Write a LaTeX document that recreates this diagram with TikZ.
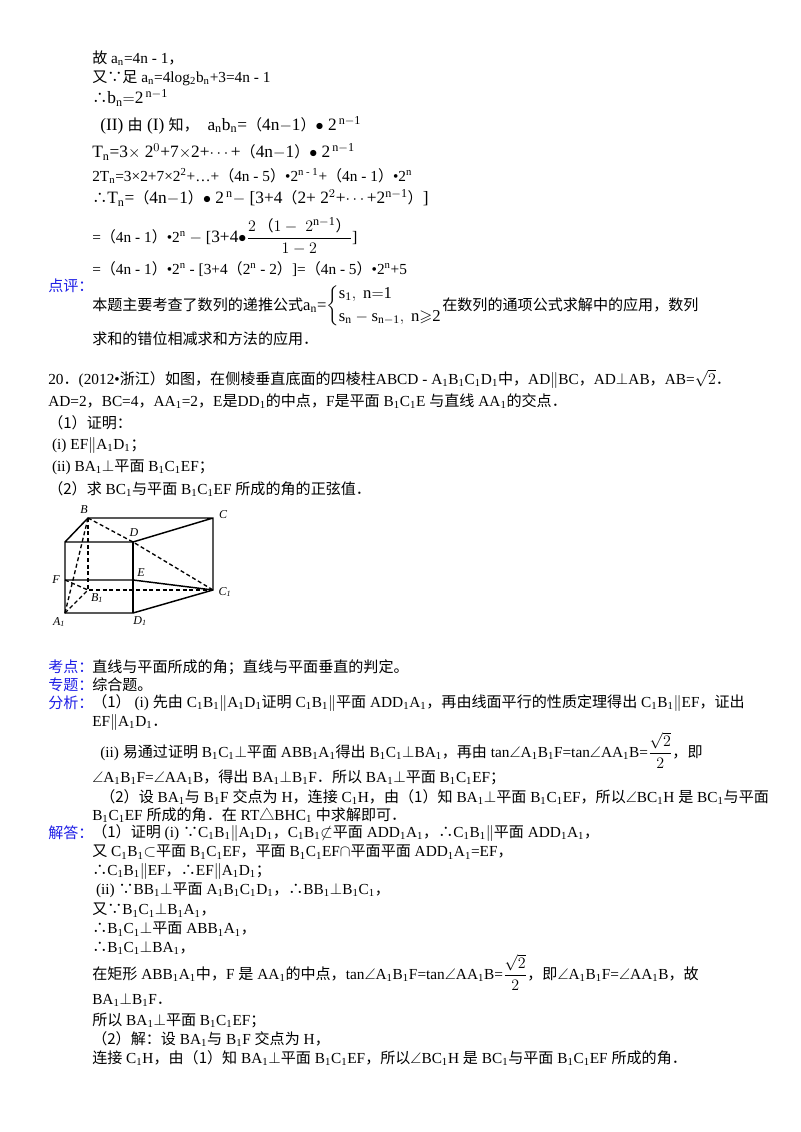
\documentclass[tikz,border=0pt]{standalone}
\usepackage{fontspec}
\usepackage{amsmath,amssymb}
\setmainfont{Liberation Serif}
\newfontfamily\zhf{Noto Sans CJK SC}
\newcommand\zh[1]{{\zhf\fontsize{11.3}{12}\selectfont #1}}
\newcommand\s[1]{\textsubscript{#1}}
\newcommand\p{$\|$}
\newcommand\pe{$\perp$}
\newcommand\an{$\angle$}
\newcommand\lp{\zh{（}}
\newcommand\rp{\zh{）}}
\definecolor{lab}{RGB}{30,30,230}
\begin{document}
\begin{tikzpicture}[x=0.75pt,y=-0.75pt,
  ln/.style={anchor=west,inner sep=0pt,font=\fontsize{11.5}{13}\selectfont},
  fm/.style={ln,font=\fontsize{13}{15}\selectfont},
  lb/.style={ln,text=lab},
  ed/.style={line width=1.1pt},
  hid/.style={line width=1pt,dashed,dash pattern=on 3pt off 2pt},
  pl/.style={font=\itshape\fontsize{9}{10}\selectfont,inner sep=0pt}]
\useasboundingbox (0,0) rectangle (800,1132);
\fill[white] (0,0) rectangle (800,1132);
\node[ln] (l1) at (92,58) {\zh{故} a\s{n}=4n - 1\zh{，}};
\node[ln] (l2) at (92,78) {\zh{又∵足} a\s{n}=4log\s{2}b\s{n}+3=4n - 1};
\node[fm] (l3) at (92,98) {\zh{∴}$\mathrm{b_n{=}2^{\,n-1}}$};
\node[fm] (l4) at (100,125) {(II) \zh{由} (I) \zh{知，}\ \ $\mathrm{a_nb_n}$=\lp 4n$-$1\rp$\bullet$ $\mathrm{2^{\,n-1}}$};
\node[fm] (l5) at (92,152) {$\mathrm{T_n}$=3$\times$ 2$^0$+7$\times$2+$\cdots$+\lp 4n$-$1\rp$\bullet$ $\mathrm{2^{\,n-1}}$};
\node[ln] (l6) at (92,176) {2T\s{n}=3×2+7×2\textsuperscript{2}+…+\lp 4n - 5\rp •2\textsuperscript{n - 1}+\lp 4n - 1\rp •2\textsuperscript{n}};
\node[fm] (l7) at (92,198) {\zh{∴}$\mathrm{T_n}$=\lp 4n$-$1\rp$\bullet$ $\mathrm{2^{\,n}}$$-$ [3+4\lp 2+ 2$^2$+$\cdots$+2$^{\mathrm{n-1}}$\rp]};
\node[ln] (l8) at (92,236) {=\lp 4n - 1\rp •2\textsuperscript{n} $-$ {\fontsize{13}{15}\selectfont{\large[}3+4$\bullet\dfrac{2\,\text{\zh{（}}1-\ 2^{\mathrm{n-1}}\text{\zh{）}}}{1-2}${\large]}}};
\node[ln] (l9) at (92,269) {=\lp 4n - 1\rp •2\textsuperscript{n} - [3+4\lp 2\textsuperscript{n} - 2\rp]=\lp 4n - 5\rp •2\textsuperscript{n}+5};
\node[lb] (dp) at (48,286) {\zh{点评：}};
\node[ln] (l10) at (92,306) {\zh{本题主要考查了数列的递推公式}{\fontsize{12.5}{14}\selectfont$\mathrm{a_n}$=$\left\{\begin{array}{@{}l@{}}\mathrm{s_1},\ \mathrm{n{=}1}\\[3pt] \mathrm{s_n-s_{n-1}},\ \mathrm{n{\geqslant}2}\end{array}\right.$}\zh{在数列的通项公式求解中的应用，数列}};
\node[ln] (l11) at (92,339) {\zh{求和的错位相减求和方法的应用．}};
\node[ln] (q1) at (48,379) {20\zh{．}(2012•\zh{浙江）如图，在侧棱垂直底面的四棱柱}ABCD - A\s1B\s1C\s1D\s1\zh{中，}AD\p BC\zh{，}AD\pe AB\zh{，}AB=$\sqrt2$\zh{．}};
\node[ln] (q2) at (48,401) {AD=2\zh{，}BC=4\zh{，}AA\s1=2\zh{，}E\zh{是}DD\s1\zh{的中点，}F\zh{是平面} B\s1C\s1E \zh{与直线} AA\s1\zh{的交点．}};
\node[ln] (q3) at (48,423) {\zh{（1）证明：}};
\node[ln] (q4) at (48,445) {\ (i) EF\p A\s1D\s1\zh{；}};
\node[ln] (q5) at (48,467) {\ (ii) BA\s1\pe\zh{平面} B\s1C\s1EF\zh{；}};
\node[ln] (q6) at (48,489) {\zh{（2）求} BC\s1\zh{与平面} B\s1C\s1EF \zh{所成的角的正弦值．}};
% figure
\coordinate (B) at (88,518); \coordinate (C) at (213,518);
\coordinate (A) at (65,542); \coordinate (D) at (133,542);
\coordinate (F) at (65,580); \coordinate (E) at (133,580);
\coordinate (B1) at (88,590); \coordinate (C1) at (213,590);
\coordinate (A1) at (65,613); \coordinate (D1) at (133,613);
\draw[ed] (A)--(B)--(C)--(C1)--(D1)--(A1)--(A)--(D)--(C);
\draw[ed] (D)--(D1); \draw[ed] (F)--(E)--(C1);
\draw[hid] (B)--(B1)--(C1); \draw[hid] (B)--(D)--(C1);
\draw[hid] (A1)--(B1); \draw[hid] (F)--(B1); \draw[hid] (A1)--(B);
\node[pl] (nB) at (84,510) {B}; \node[pl] (nC) at (223,515) {C};
\node[pl] (nD) at (134,533) {D}; \node[pl] (nE) at (141,573) {E};
\node[pl] (nF) at (56,580) {F}; \node[pl] (nB1) at (97,598) {B\textsubscript{1}};
\node[pl] (nC1) at (225,592) {C\textsubscript{1}}; \node[pl] (nA1) at (59,622) {A\textsubscript{1}};
\node[pl] (nD1) at (140,621) {D\textsubscript{1}};
% analysis
\node[lb] (kd) at (48,667) {\zh{考点：}};
\node[ln] (a1) at (92,667) {\zh{直线与平面所成的角；直线与平面垂直的判定。}};
\node[lb] (zt) at (48,685) {\zh{专题：}};
\node[ln] (a2) at (92,685) {\zh{综合题。}};
\node[lb] (fx) at (48,703) {\zh{分析：}};
\node[ln] (a3) at (92,703) {\zh{（1）} (i) \zh{先由} C\s1B\s1\p A\s1D\s1\zh{证明} C\s1B\s1\p\zh{平面} ADD\s1A\s1\zh{，再由线面平行的性质定理得出} C\s1B\s1\p EF\zh{，证出}};
\node[ln] (a4) at (92,722) {EF\p A\s1D\s1\zh{．}};
\node[ln] (a5) at (100,750) {(ii) \zh{易通过证明} B\s1C\s1\pe\zh{平面} ABB\s1A\s1\zh{得出} B\s1C\s1\pe BA\s1\zh{，再由} tan\an A\s1B\s1F=tan\an AA\s1B=$\dfrac{\sqrt2}{2}$\zh{，即}};
\node[ln] (a6) at (92,777) {\an A\s1B\s1F=\an AA\s1B\zh{，得出} BA\s1\pe B\s1F\zh{．所以} BA\s1\pe\zh{平面} B\s1C\s1EF\zh{；}};
\node[ln] (a7) at (100,797) {\zh{（2）设} BA\s1\zh{与} B\s1F \zh{交点为} H\zh{，连接} C\s1H\zh{，由（1）知} BA\s1\pe\zh{平面} B\s1C\s1EF\zh{，所以}\an BC\s1H \zh{是} BC\s1\zh{与平面}};
\node[ln] (a8) at (92,815) {B\s1C\s1EF \zh{所成的角．在} RT\zh{△}BHC\s1 \zh{中求解即可．}};
\node[lb] (jd) at (48,833) {\zh{解答：}};
\node[ln] (b1) at (92,833) {\zh{（1）证明} (i) \zh{∵}C\s1B\s1\p A\s1D\s1\zh{，}C\s1B\s1$\not\subset$\zh{平面} ADD\s1A\s1\zh{，∴}C\s1B\s1\p\zh{平面} ADD\s1A\s1\zh{，}};
\node[ln] (b2) at (92,852) {\zh{又} C\s1B\s1$\subset$\zh{平面} B\s1C\s1EF\zh{，平面} B\s1C\s1EF$\cap$\zh{平面平面} ADD\s1A\s1=EF\zh{，}};
\node[ln] (b3) at (92,871) {\zh{∴}C\s1B\s1\p EF\zh{，∴}EF\p A\s1D\s1\zh{；}};
\node[ln] (b4) at (92,890) {\ (ii) \zh{∵}BB\s1\pe\zh{平面} A\s1B\s1C\s1D\s1\zh{，∴}BB\s1\pe B\s1C\s1\zh{，}};
\node[ln] (b5) at (92,910) {\zh{又∵}B\s1C\s1\pe B\s1A\s1\zh{，}};
\node[ln] (b6) at (92,929) {\zh{∴}B\s1C\s1\pe\zh{平面} ABB\s1A\s1\zh{，}};
\node[ln] (b7) at (92,948) {\zh{∴}B\s1C\s1\pe BA\s1\zh{，}};
\node[ln] (b8) at (92,972) {\zh{在矩形} ABB\s1A\s1\zh{中，}F \zh{是} AA\s1\zh{的中点，}tan\an A\s1B\s1F=tan\an AA\s1B=$\dfrac{\sqrt2}{2}$\zh{，即}\an A\s1B\s1F=\an AA\s1B\zh{，故}};
\node[ln] (b9) at (92,1000) {BA\s1\pe B\s1F\zh{．}};
\node[ln] (b10) at (92,1020) {\zh{所以} BA\s1\pe\zh{平面} B\s1C\s1EF\zh{；}};
\node[ln] (b11) at (92,1039) {\zh{（2）解：设} BA\s1\zh{与} B\s1F \zh{交点为} H\zh{，}};
\node[ln] (b12) at (92,1058) {\zh{连接} C\s1H\zh{，由（1）知} BA\s1\pe\zh{平面} B\s1C\s1EF\zh{，所以}\an BC\s1H \zh{是} BC\s1\zh{与平面} B\s1C\s1EF \zh{所成的角．}};
\end{tikzpicture}
\end{document}
